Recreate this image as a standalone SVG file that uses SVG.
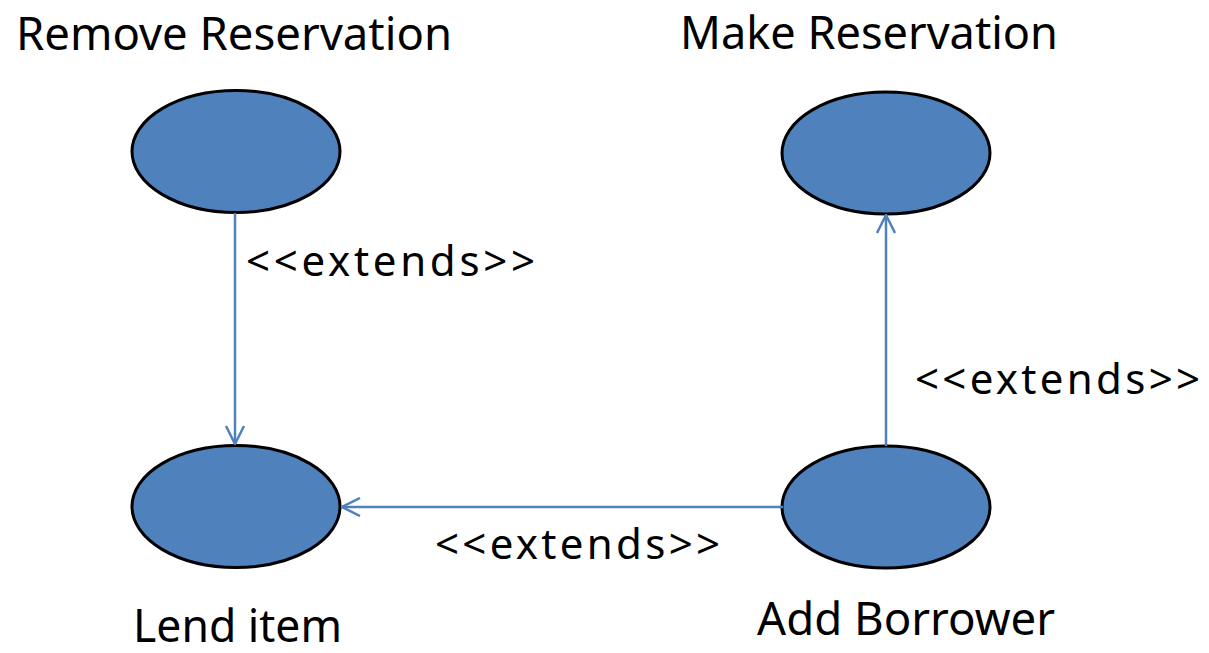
<svg xmlns="http://www.w3.org/2000/svg" width="1209" height="653" viewBox="0 0 1209 653">
<style>
.uc{fill:#4f81bd;stroke:#000;stroke-width:3}
.lbl{font-family:"Noto Sans","Noto Sans CJK KR","DejaVu Sans",sans-serif;fill:#000}
.t{font-size:46px}
.e{font-size:42px}
.c{stroke:#4f81bd;stroke-width:2.5;fill:none}
</style>
<defs>
<marker id="arr" viewBox="0 0 20 20" refX="19" refY="10" markerWidth="20" markerHeight="20" markerUnits="userSpaceOnUse" orient="auto">
<path d="M1,1 L19,10 L1,19" fill="none" stroke="#4f81bd" stroke-width="2.5"/>
</marker>
</defs>
<rect width="1209" height="653" fill="#fff"/>
<g id="remove-reservation">
<ellipse class="uc" cx="236" cy="151.5" rx="104" ry="61"/>
<text class="lbl t" x="16" y="50" textLength="436" lengthAdjust="spacingAndGlyphs">Remove Reservation</text>
</g>
<g id="make-reservation">
<ellipse class="uc" cx="886" cy="153" rx="104" ry="61"/>
<text class="lbl t" x="680" y="49" textLength="378" lengthAdjust="spacingAndGlyphs">Make Reservation</text>
</g>
<g id="lend-item">
<ellipse class="uc" cx="236" cy="506.5" rx="104" ry="61"/>
<text class="lbl t" x="133" y="642" textLength="209" lengthAdjust="spacingAndGlyphs">Lend item</text>
</g>
<g id="add-borrower">
<ellipse class="uc" cx="886" cy="507" rx="104" ry="61"/>
<text class="lbl t" x="757" y="635" textLength="298" lengthAdjust="spacingAndGlyphs">Add Borrower</text>
</g>
<g id="connectors">
<line class="c" x1="235" y1="213" x2="235" y2="444" marker-end="url(#arr)"/>
<line class="c" x1="783" y1="507" x2="342" y2="507" marker-end="url(#arr)"/>
<line class="c" x1="886" y1="446" x2="886" y2="215" marker-end="url(#arr)"/>
<text class="lbl e" x="246" y="276" textLength="289" lengthAdjust="spacing">&lt;&lt;extends&gt;&gt;</text>
<text class="lbl e" x="915" y="394" textLength="285" lengthAdjust="spacing">&lt;&lt;extends&gt;&gt;</text>
<text class="lbl e" x="435" y="559" textLength="285" lengthAdjust="spacing">&lt;&lt;extends&gt;&gt;</text>
</g>
</svg>
